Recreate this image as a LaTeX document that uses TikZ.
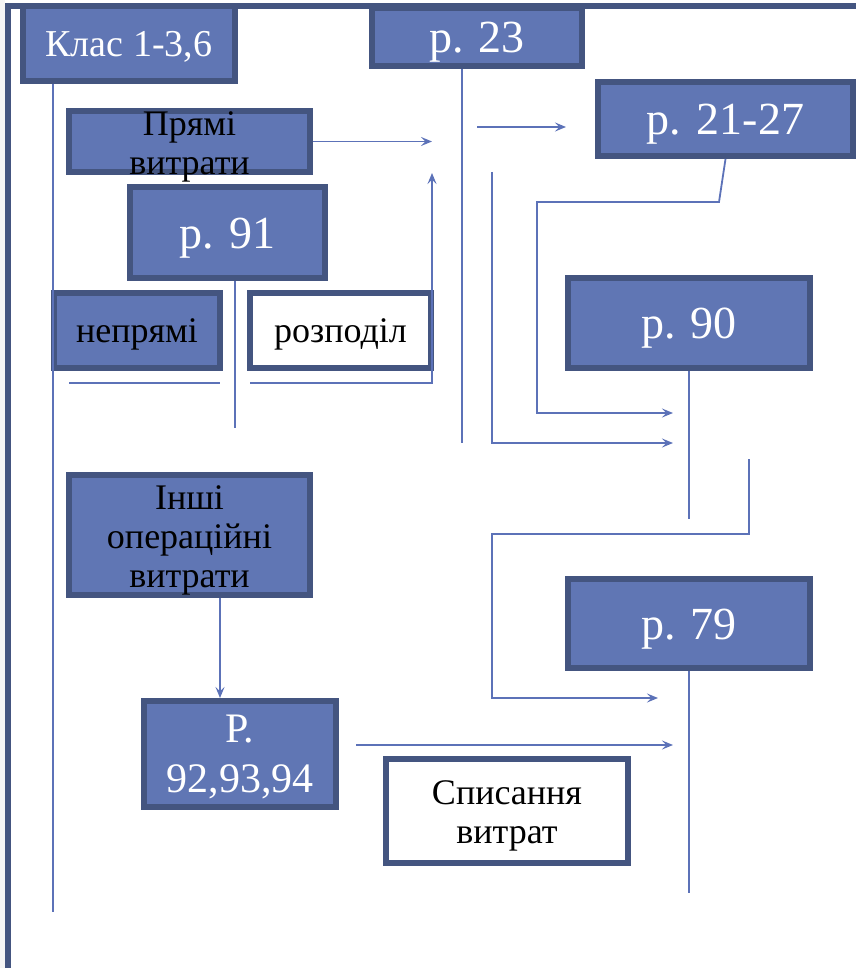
\documentclass[tikz,border=0pt]{standalone}
\usepackage{fontspec}
\setmainfont{Liberation Serif}
\usetikzlibrary{arrows.meta}
\definecolor{bf}{RGB}{96,118,180}
\definecolor{bd}{RGB}{68,85,128}
\definecolor{ln}{RGB}{92,114,184}
\begin{document}
\begin{tikzpicture}[x=1pt, y=-1pt,
    B/.style={draw=bd, fill=bf, line width=6pt, inner sep=0pt},
    W/.style={B, fill=white},
    big/.style={text=white, font=\fontsize{46}{55}\selectfont, text height=41.4pt, text depth=10.1pt},
    dk/.style={text=black, font=\fontsize{36}{39}\selectfont},
    one/.style={text height=32.4pt, text depth=7.9pt},
    lbl/.style={align=center, yshift=-5pt},
    L/.style={draw=ln, line width=1.8pt},
    A/.style={L, -{Stealth[length=11pt, width=9pt, inset=4.5pt]}}
  ]
  \useasboundingbox (0,0) rectangle (856,968);
  \fill[gray!8] (0,0) rectangle (5,968);
  \node[B, big, font=\fontsize{38}{45}\selectfont, text height=34.2pt, text depth=8.4pt,
    minimum width=212pt, minimum height=75pt] (klas) at (129,43.5) {Клас 1-3,6};
  \node[B, big, minimum width=210pt, minimum height=58pt] (p23) at (477,37) {р. 23};
  \node[B, minimum width=241pt, minimum height=61pt,
    label={[name=prm-t, dk, lbl]center:Прямі\\витрати}] (prm) at (189.5,141.5) {};
  \node[B, big, minimum width=195pt, minimum height=91pt] (p91) at (227.5,232.5) {р. 91};
  \node[B, big, minimum width=255pt, minimum height=74pt] (p2127) at (725.5,119) {р. 21-27};
  \node[B, big, minimum width=242pt, minimum height=90pt] (p90) at (689,323) {р. 90};
  \node[B, dk, one, minimum width=166pt, minimum height=75pt] (nepr) at (137,330.5) {непрямі};
  \node[W, dk, one, minimum width=181pt, minimum height=75pt] (rozp) at (340.5,330.5) {розподіл};
  \node[B, minimum width=241pt, minimum height=120pt,
    label={[name=insh-t, dk, lbl]center:Інші\\операційні\\витрати}] (insh) at (189.5,535) {};
  \node[B, minimum width=192pt, minimum height=106pt,
    label={[name=p92-t, text=white, font=\fontsize{42}{50}\selectfont, lbl, yshift=2pt]center:Р.\\92,93,94}] (p92) at (240,754) {};
  \node[B, big, minimum width=242pt, minimum height=89pt] (p79) at (689,623.5) {р. 79};
  \node[W, minimum width=242pt, minimum height=104pt,
    label={[name=spys-t, dk, lbl]center:Списання\\витрат}] (spys) at (507,811) {};

  \coordinate (kl) at (53,912);
  \coordinate (a1) at (432,141.5);
  \coordinate (r1) at (250,383);
  \coordinate (r2) at (432,173);
  \coordinate (n1) at (69,383);
  \coordinate (n2) at (220,383);
  \coordinate (d91) at (235,428);
  \coordinate (d23) at (462,443);
  \coordinate (b1) at (477,127);
  \coordinate (b2) at (566,127);
  \coordinate (c1) at (719,202);
  \coordinate (c2) at (537,202);
  \coordinate (c3) at (673,413);
  \coordinate (e1) at (492,172);
  \coordinate (e2) at (673,443);
  \coordinate (d90) at (689,519);
  \coordinate (g1) at (749,459);
  \coordinate (g2) at (492,534);
  \coordinate (g3) at (658,698);
  \coordinate (d79) at (689,893);
  \coordinate (h1) at (356,745);
  \coordinate (h2) at (673,745);
  \coordinate (iv) at (220,0);

  \draw[L] (klas.south -| kl) -- (kl);
  \draw[A] (prm.east) -- (a1);
  \draw[A] (r1) -| (r2);
  \draw[L] (n1) -- (n2);
  \draw[L] (p91.south -| d91) -- (d91);
  \draw[L] (p23.south -| d23) -- (d23);
  \draw[A] (b1) -- (b2);
  \draw[A] (p2127.south) -- (c1) -- (c2) |- (c3);
  \draw[A] (e1) |- (e2);
  \draw[L] (p90.south) -- (d90);
  \draw[A] (g1) |- (g2) |- (g3);
  \draw[L] (p79.south) -- (d79);
  \draw[A] (h1) -- (h2);
  \draw[A] (insh.south -| iv) -- (p92.north -| iv);

  \fill[bd] (5,3) rectangle (856,9);
  \fill[bd] (5,3) rectangle (11,968);
\end{tikzpicture}
\end{document}
